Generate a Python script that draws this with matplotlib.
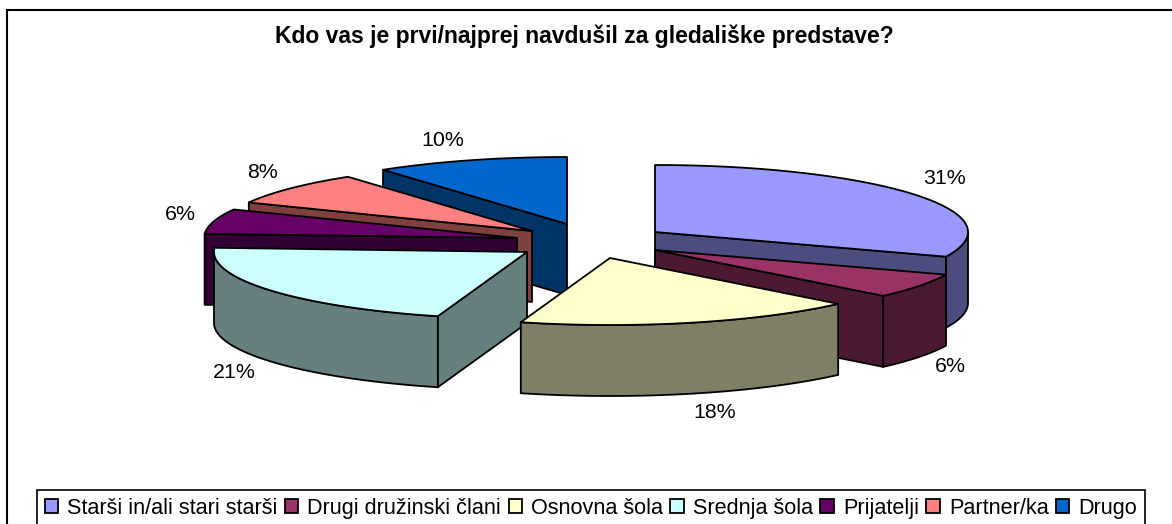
import numpy as np
import matplotlib
matplotlib.use("Agg")
import matplotlib.pyplot as plt
from matplotlib.patches import Polygon, Patch, Rectangle

plt.rcParams['font.family'] = ['Liberation Sans', 'DejaVu Sans']

title = "Kdo vas je prvi/najprej navdušil za gledališke predstave?"
categories = ["Starši in/ali stari starši", "Drugi družinski člani", "Osnovna šola",
              "Srednja šola", "Prijatelji", "Partner/ka", "Drugo"]
values = [31.0, 6.0, 17.6, 21.4, 6.0, 8.0, 10.0]

face_colors = ["#9999FF", "#993366", "#FFFFCC", "#CCFFFF", "#660066", "#FF8080", "#0066CC"]
side_colors = ["#4C4C7F", "#4C1933", "#7F7F66", "#667F7F", "#330033", "#7F4040", "#003366"]

# layout of the exploded 3-D pie, in pixels
centres = [(655, 232), (655, 250), (610, 258), (527, 252), (517, 238), (532, 231), (567, 224)]
label_pos = [(945, 179), (950, 366), (715, 413), (234, 372), (180, 215), (262, 172), (443, 141)]
RX, RY, DEPTH = 313, 67, 71
draw_order = [6, 5, 4, 3, 0, 1, 2]
EDGE = dict(edgecolor="black", linewidth=1.3, joinstyle="round")

fig = plt.figure(figsize=(11.72, 5.24), dpi=100, facecolor="white")
ax = fig.add_axes([0, 0, 1, 1])
ax.set_xlim(0, 1172)
ax.set_ylim(524, 0)
ax.axis("off")

ax.add_patch(Rectangle((7, 10), 1200, 530, facecolor="white", edgecolor="black", linewidth=1.5))
ax.text(584, 36, title, ha="center", va="center", fontsize=16.5, fontweight="bold")


def point(c, deg):
    r = np.radians(deg)
    return np.column_stack([c[0] + RX * np.cos(r), c[1] - RY * np.sin(r)])


edges = 90 - 3.6 * np.concatenate([[0], np.cumsum(values)])

for i in draw_order:
    c = centres[i]
    a1, a2 = edges[i], edges[i + 1]
    p1, p2 = point(c, a1)[0], point(c, a2)[0]
    down = np.array([0, DEPTH])
    z = 2 + draw_order.index(i)
    # radial wall facing the viewer
    if np.cos(np.radians(a1)) < -1e-6:
        ax.add_patch(Polygon([c, p1, p1 + down, np.array(c) + down], facecolor=side_colors[i], zorder=z, **EDGE))
    if np.cos(np.radians(a2)) > 1e-6:
        ax.add_patch(Polygon([c, p2, p2 + down, np.array(c) + down], facecolor=side_colors[i], zorder=z, **EDGE))
    # outer wall: only the part of the rim on the near side
    lo, hi = a2, min(a1, 0.0)
    lo = max(lo, -180.0)
    if hi > lo:
        arc = point(c, np.linspace(hi, lo, 60))
        ax.add_patch(Polygon(np.vstack([arc, (arc + down)[::-1]]), facecolor=side_colors[i], zorder=z, **EDGE))
    # top face
    top = point(c, np.linspace(a1, a2, 80))
    ax.add_patch(Polygon(np.vstack([[c], top]), facecolor=face_colors[i], zorder=z + 0.5, **EDGE))

for v, (x, y) in zip(values, label_pos):
    ax.text(x, y, f"{v:.0f}%", ha="center", va="center", fontsize=15.4, zorder=20)

handles = [Patch(facecolor=f, edgecolor="black", linewidth=1.3) for f in face_colors]
leg = ax.legend(handles, categories, ncol=7, loc="upper left",
                fontsize=15.6, frameon=True, fancybox=False, edgecolor="black", framealpha=1,
                handlelength=0.62, handleheight=0.6, handletextpad=0.42, columnspacing=0.34,
                borderpad=0.35, borderaxespad=0)
leg.get_frame().set_linewidth(1.2)
leg.set_bbox_to_anchor((37, 490), transform=ax.transData)
leg.set_zorder(30)

fig.savefig("out.png", dpi=100)
